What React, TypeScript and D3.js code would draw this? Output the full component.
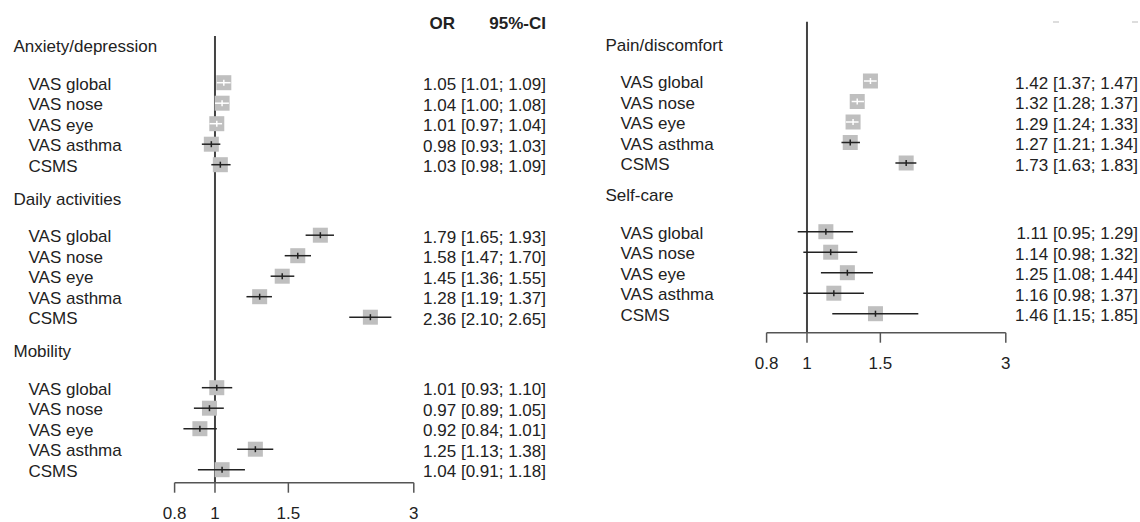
import * as d3 from 'd3';

// rows inside every group
const items = ['VAS global', 'VAS nose', 'VAS eye', 'VAS asthma', 'CSMS'];

const leftGroups = ['Anxiety/depression', 'Daily activities', 'Mobility'];
const rightGroups = ['Pain/discomfort', 'Self-care'];

const anxietyOR = [1.05, 1.04, 1.01, 0.98, 1.03];
const anxietyLo = [1.01, 1.0, 0.97, 0.93, 0.98];
const anxietyHi = [1.09, 1.08, 1.04, 1.03, 1.09];

const dailyOR = [1.79, 1.58, 1.45, 1.28, 2.36];
const dailyLo = [1.65, 1.47, 1.36, 1.19, 2.1];
const dailyHi = [1.93, 1.7, 1.55, 1.37, 2.65];

const mobilityOR = [1.01, 0.97, 0.92, 1.25, 1.04];
const mobilityLo = [0.93, 0.89, 0.84, 1.13, 0.91];
const mobilityHi = [1.1, 1.05, 1.01, 1.38, 1.18];

const painOR = [1.42, 1.32, 1.29, 1.27, 1.73];
const painLo = [1.37, 1.28, 1.24, 1.21, 1.63];
const painHi = [1.47, 1.37, 1.33, 1.34, 1.83];

const selfOR = [1.11, 1.14, 1.25, 1.16, 1.46];
const selfLo = [0.95, 0.98, 1.08, 0.98, 1.15];
const selfHi = [1.29, 1.32, 1.44, 1.37, 1.85];

const tickValues = [0.8, 1, 1.5, 3];

const FONT = '"Liberation Sans", Arial, Helvetica, sans-serif';
const SQ = 15;

type Group = { name: string; or: number[]; lo: number[]; hi: number[] };

const leftData: Group[] = [
  { name: leftGroups[0], or: anxietyOR, lo: anxietyLo, hi: anxietyHi },
  { name: leftGroups[1], or: dailyOR, lo: dailyLo, hi: dailyHi },
  { name: leftGroups[2], or: mobilityOR, lo: mobilityLo, hi: mobilityHi },
];
const rightData: Group[] = [
  { name: rightGroups[0], or: painOR, lo: painLo, hi: painHi },
  { name: rightGroups[1], or: selfOR, lo: selfLo, hi: selfHi },
];

const fmt = (v: number) => v.toFixed(2);

interface PanelProps {
  groups: Group[];
  dx: number;
  firstRow: number;
  period: number;
  lineTop: number;
  axisY: number;
}

const Panel = ({ groups, dx, firstRow, period, lineTop, axisY }: PanelProps) => {
  const x = d3.scaleLog().domain([0.8, 3]).range([dx + 174.6, dx + 413.8]);
  // y from a "line number": groups start every period px, rows 20.5px apart
  const y = d3.scaleLinear().domain([0, 1]).range([firstRow, firstRow + 20.5]);
  const lineOf = (g: number, i: number) => (g * period) / 20.5 + i;
  const x1 = x(1);

  return (
    <g>
      <line x1={x1} x2={x1} y1={lineTop} y2={axisY} stroke="#444" strokeWidth={2} />
      {groups.map((grp, g) => (
        <g key={grp.name}>
          <text x={dx + 13.5} y={y(lineOf(g, -1.8)) + 6.5} fontSize={17}>
            {grp.name}
          </text>
          {items.map((it, i) => {
            const cy = y(lineOf(g, i));
            const cx = x(grp.or[i]);
            const xl = x(grp.lo[i]);
            const xh = x(grp.hi[i]);
            const inside = xl >= cx - SQ / 2 && xh <= cx + SQ / 2;
            const col = inside ? '#fff' : '#222';
            return (
              <g key={it}>
                <text x={dx + 28.5} y={cy + 7} fontSize={17}>
                  {it}
                </text>
                <rect x={cx - SQ / 2} y={cy - SQ / 2} width={SQ} height={SQ} fill="#bfbfbf" />
                <line x1={xl} x2={xh} y1={cy} y2={cy} stroke={col} strokeWidth={1.5} />
                <line x1={cx} x2={cx} y1={cy - 3} y2={cy + 3} stroke={col} strokeWidth={1.5} />
                <text x={dx + 546} y={cy + 7.5} fontSize={17} textAnchor="end">
                  {`${fmt(grp.or[i])} [${fmt(grp.lo[i])}; ${fmt(grp.hi[i])}]`}
                </text>
              </g>
            );
          })}
        </g>
      ))}
      <line x1={x(0.8)} x2={x(3)} y1={axisY} y2={axisY} stroke="#555" strokeWidth={1.5} />
      {tickValues.map((t) => (
        <g key={t}>
          <line x1={x(t)} x2={x(t)} y1={axisY} y2={axisY + 10} stroke="#555" strokeWidth={1.5} />
          <text x={x(t)} y={axisY + 36.5} fontSize={17} textAnchor="middle">
            {t}
          </text>
        </g>
      ))}
    </g>
  );
};

export default function App() {
  return (
    <svg
      width={1140}
      height={522}
      style={{ position: 'absolute', left: 0, top: 0, background: '#fff' }}
      fontFamily={FONT}
      fill="#222"
    >
      <text x={455} y={29} fontSize={17} fontWeight="bold" textAnchor="end">
        OR
      </text>
      <text x={546} y={29} fontSize={17} fontWeight="bold" textAnchor="end">
        95%-CI
      </text>
      {/* cut-off header remains of the right panel */}
      <line x1={1053} x2={1059} y1={22} y2={22} stroke="#bbb" strokeWidth={1} />
      <line x1={1132} x2={1138} y1={22} y2={22} stroke="#bbb" strokeWidth={1} />
      <Panel groups={leftData} dx={0} firstRow={82.7} period={152.5} lineTop={36} axisY={482.7} />
      <Panel groups={rightData} dx={592} firstRow={81} period={150.7} lineTop={21.7} axisY={332.7} />
    </svg>
  );
}
